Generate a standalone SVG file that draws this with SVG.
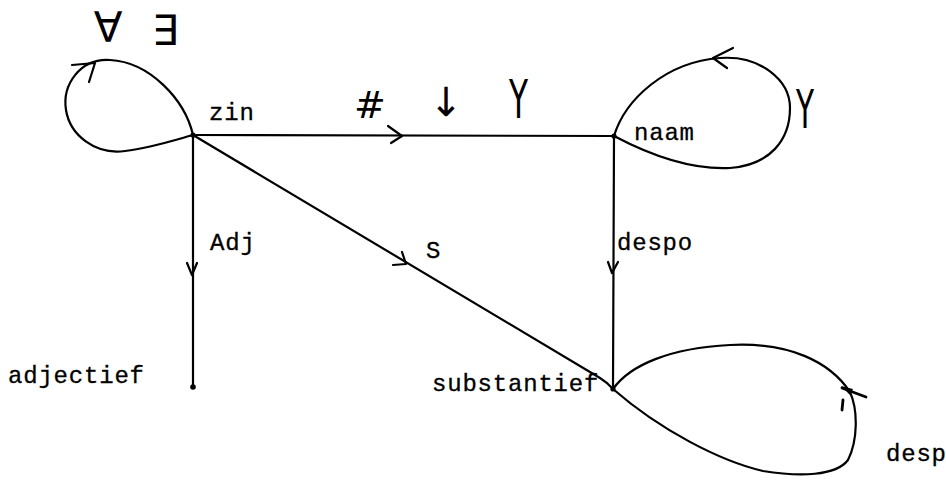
<svg xmlns="http://www.w3.org/2000/svg" width="946" height="480" viewBox="0 0 946 480">
<style>
.e{fill:none;stroke:#000;stroke-width:2.2;stroke-linecap:round;stroke-linejoin:round}
.h{fill:none;stroke:#000;stroke-width:2.8;stroke-linecap:round;stroke-linejoin:round}
.t{font-family:"Liberation Mono","DejaVu Sans Mono",monospace;font-size:24px;letter-spacing:0.8px;fill:#000;stroke:#000;stroke-width:0.3}
.s{font-family:"DejaVu Sans","Liberation Sans",sans-serif;fill:#000}
.d{fill:#000}
</style>
<rect width="946" height="480" fill="#fff"/>
<g id="connectors">
  <path class="e" d="M193,135 L614,136"/>
  <path class="e" d="M388,126 L402,136 L391,143"/>
  <path class="e" d="M193,135 L193,387"/>
  <path class="e" d="M187,263 L192,275 L197,263"/>
  <path class="e" d="M614,136 L613,389"/>
  <path class="e" d="M608,262 L612,273 L618,262"/>
  <path class="e" d="M193,135 L600,378 Q608,383 613,389"/>
  <path class="e" d="M393,265 L406,264 L402,252"/>
  <path class="e" d="M193,135 C185,100 150,62 110,60 C80,58 62,85 66,110 C70,135 95,155 125,151 C150,148 175,140 193,135"/>
  <path class="e" d="M72,65 L95,63 L89,82"/>
  <path class="e" d="M614,136 C625,100 665,62 720,58 C760,55 790,80 790,108 C790,140 770,165 730,168 C690,170 650,155 614,136"/>
  <path class="e" d="M733,48 L713,58 L727,68"/>
  <path class="e" d="M613,389 C630,365 670,348 730,345 C790,342 830,362 850,392 C858,410 858,440 848,460 C836,476 800,477 763,471 C720,461 660,430 613,389"/>
  <path class="h" d="M842,388 L866,397"/>
  <path class="d" d="M841,386 L853,389 L850,395 Z"/>
  <path class="h" d="M843,400 L842,410"/>
</g>
<g id="n-zin">
  <circle class="d" cx="193" cy="135" r="2.6"/>
  <text class="t" x="209" y="120">zin</text>
</g>
<g id="n-naam">
  <circle class="d" cx="614" cy="136" r="2.6"/>
  <text class="t" x="634" y="140">naam</text>
</g>
<g id="n-adjectief">
  <circle class="d" cx="193" cy="387" r="2.8"/>
  <text class="t" x="8" y="383">adjectief</text>
</g>
<g id="n-substantief">
  <circle class="d" cx="613" cy="389" r="2.6"/>
  <text class="t" x="432" y="391">substantief</text>
</g>
<g id="labels">
  <text class="t" x="210" y="250">Adj</text>
  <text class="t" x="426" y="258">S</text>
  <text class="t" x="617" y="250">despo</text>
  <text class="t" x="886" y="461">desp</text>
  <text class="s" x="108" y="42" font-size="42" text-anchor="middle">∀</text>
  <text class="s" x="165" y="45" font-size="42" text-anchor="middle">∃</text>
  <text class="s" x="370" y="118" font-size="38" text-anchor="middle">#</text>
  <text class="s" x="446" y="116" font-size="40" text-anchor="middle">↓</text>
  <text class="s" x="509" y="118" font-size="54" textLength="19" lengthAdjust="spacingAndGlyphs">Y</text>
  <text class="s" x="796" y="128" font-size="54" textLength="18" lengthAdjust="spacingAndGlyphs">Y</text>
</g>
</svg>
